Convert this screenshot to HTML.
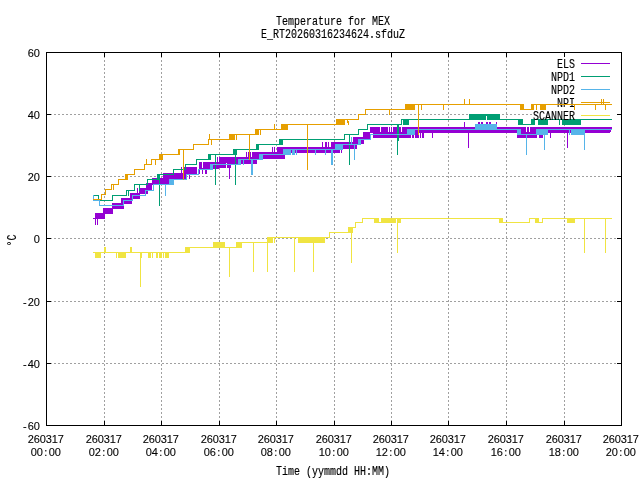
<!DOCTYPE html>
<html lang="en">
<head>
<meta charset="utf-8">
<title>Temperature for MEX</title>
<style>
html,body{margin:0;padding:0;background:#fff;}
body{width:640px;height:480px;overflow:hidden;}
svg{display:block;}
</style>
</head>
<body>
<svg width="640" height="480" viewBox="0 0 640 480" shape-rendering="crispEdges">
<rect width="640" height="480" fill="#fff"/>
<g stroke="#a0a0a0" stroke-width="1" stroke-dasharray="2 2" fill="none"><path d="M104.5 426V52"/><path d="M161.5 426V52"/><path d="M219.5 426V52"/><path d="M276.5 426V52"/><path d="M334.5 426V52"/><path d="M391.5 426V52"/><path d="M448.5 426V52"/><path d="M506.5 426V52"/><path d="M564.5 426V52"/><path d="M46 114.5H621"/><path d="M46 176.5H621"/><path d="M46 238.5H621"/><path d="M46 301.5H621"/><path d="M46 363.5H621"/></g>
<rect x="532" y="57" width="89" height="66" fill="#fff"/>
<g font-family="'Liberation Mono', monospace" font-size="12" fill="#000" stroke="#000" stroke-width="0.15"><text transform="translate(575 68) scale(0.8333 1)" text-anchor="end">ELS</text></g>

<path fill="#9400d3" d="M581 63h29v1h-29zM93 218h3v1h-3zM95 213h10v6h-10zM103 208h10v6h-10zM112 203h12v6h-12zM121 198h11v6h-11zM130 193h10v6h-10zM137 188h1v5h-1zM139 188h9v5h-9zM137 193h11v1h-11zM146 183h6v7h-6zM152 178h18v7h-18zM163 173h24v7h-24zM184 167h13v7h-13zM199 162h3v7h-3zM199 168h1v6h-1zM202 168h1v6h-1zM203 162h16v7h-16zM205 168h2v6h-2zM217 157h1v6h-1zM219 157h7v11h-7zM227 157h4v11h-4zM226 157h1v6h-1zM230 157h27v7h-27zM252 152h33v7h-33zM277 147h63v6h-63zM331 142h26v7h-26zM353 137h11v7h-11zM360 137h4v6h-4zM363 132h7v8h-7zM370 127h10v5h-10zM381 127h7v5h-7zM389 127h1v5h-1zM391 127h1v5h-1zM393 127h8v5h-8zM402 127h124v5h-124zM527 127h2v5h-2zM530 127h82v5h-82zM370 132h240v1h-240z"/>
<path fill="#ffffff" d="M611 130h1v2h-1z"/>
<path fill="#9400d3" d="M373 133h38v5h-38zM412 133h2v5h-2zM415 133h4v5h-4zM420 133h1v5h-1zM422 133h2v5h-2zM517 133h20v5h-20zM539 135h4v3h-4zM95 218h1v7h-1zM97 218h1v7h-1zM181 167h1v7h-1zM189 174h1v5h-1zM229 163h1v16h-1zM246 152h1v6h-1zM248 152h1v6h-1zM250 152h1v6h-1zM272 147h1v6h-1zM274 147h1v6h-1zM322 142h1v6h-1zM325 142h1v6h-1zM326 142h1v6h-1zM328 142h1v6h-1zM341 148h1v5h-1zM432 132h1v6h-1zM464 122h1v6h-1zM468 132h1v16h-1zM550 132h1v6h-1zM567 132h1v16h-1zM478 122h2v3h-2zM481 122h2v3h-2zM486 122h2v3h-2zM489 122h2v3h-2zM496 122h1v3h-1z"/>
<g font-family="'Liberation Mono', monospace" font-size="12" fill="#000" stroke="#000" stroke-width="0.15"><text transform="translate(575 81) scale(0.8333 1)" text-anchor="end">NPD1</text></g>

<path fill="#009e73" d="M581 76h29v1h-29zM93 195h6v1h-6zM98 195h1v6h-1zM98 200h15v1h-15zM112 195h1v6h-1zM112 195h15v1h-15zM126 190h1v6h-1zM126 190h9v1h-9zM134 184h1v7h-1zM134 184h14v1h-14zM147 179h1v6h-1zM147 179h11v1h-11zM157 174h1v6h-1zM157 174h17v1h-17zM173 169h1v6h-1zM173 169h13v1h-13zM185 164h1v6h-1zM185 164h12v1h-12zM196 159h1v6h-1zM196 159h13v1h-13zM208 154h1v6h-1zM208 154h26v1h-26zM233 149h1v6h-1zM233 149h24v1h-24zM256 144h1v6h-1zM256 144h25v1h-25zM280 139h1v6h-1zM280 139h65v1h-65zM344 134h1v6h-1zM344 134h15v1h-15zM358 129h1v6h-1zM358 129h10v1h-10zM367 124h1v6h-1zM367 124h35v1h-35zM401 119h1v6h-1zM401 119h85v1h-85zM487 119h32v1h-32zM518 119h1v6h-1zM518 124h14v1h-14zM531 119h1v6h-1zM531 119h81v1h-81zM157 174h2v6h-2zM208 154h3v6h-3zM233 149h4v6h-4zM256 144h3v6h-3zM279 139h4v6h-4zM403 119h6v6h-6zM469 114h31v2h-31zM469 114h17v6h-17zM487 114h13v6h-13zM518 119h5v6h-5zM531 119h4v6h-4zM538 119h10v6h-10zM562 119h19v6h-19zM128 190h1v6h-1zM139 184h1v7h-1zM159 174h1v32h-1zM215 154h1v31h-1zM235 149h1v36h-1zM349 134h1v31h-1zM397 124h1v31h-1zM398 124h1v17h-1zM559 119h1v6h-1z"/>
<g font-family="'Liberation Mono', monospace" font-size="12" fill="#000" stroke="#000" stroke-width="0.15"><text transform="translate(575 94) scale(0.8333 1)" text-anchor="end">NPD2</text></g>

<path fill="#56b4e9" d="M581 89h29v1h-29zM93 195h1v6h-1zM93 200h7v1h-7zM99 200h1v6h-1zM99 205h25v1h-25zM123 200h1v6h-1zM123 200h10v1h-10zM132 195h1v6h-1zM132 195h14v1h-14zM145 190h1v6h-1zM145 190h9v1h-9zM153 184h1v7h-1zM153 184h21v1h-21zM173 179h1v6h-1zM173 179h14v1h-14zM186 174h1v6h-1zM186 174h13v1h-13zM198 169h1v6h-1zM198 169h15v1h-15zM212 164h1v6h-1zM212 164h27v1h-27zM238 159h1v6h-1zM238 159h22v1h-22zM259 154h1v6h-1zM259 154h25v1h-25zM283 149h1v6h-1zM283 149h53v1h-53zM335 144h1v6h-1zM335 144h24v1h-24zM358 139h1v6h-1zM358 139h13v1h-13zM370 134h1v6h-1zM370 134h38v1h-38zM407 129h1v6h-1zM407 129h111v1h-111zM517 129h1v6h-1zM517 134h20v1h-20zM536 129h1v6h-1zM536 129h76v1h-76zM169 179h5v6h-5zM210 164h3v6h-3zM238 159h3v6h-3zM259 154h4v6h-4zM283 149h8v6h-8zM292 149h3v6h-3zM296 149h1v6h-1zM335 144h8v6h-8zM358 139h3v6h-3zM407 129h8v6h-8zM475 124h22v6h-22zM517 129h4v6h-4zM536 129h12v6h-12zM571 129h14v6h-14zM165 184h1v12h-1zM243 159h1v6h-1zM251 159h1v16h-1zM252 159h1v16h-1zM315 149h1v6h-1zM325 149h1v6h-1zM331 149h1v16h-1zM332 149h1v16h-1zM351 137h1v8h-1zM354 144h1v16h-1zM526 134h1v21h-1zM544 134h1v16h-1zM569 129h1v6h-1zM584 134h1v16h-1z"/>
<g font-family="'Liberation Mono', monospace" font-size="12" fill="#000" stroke="#000" stroke-width="0.15"><text transform="translate(575 107) scale(0.8333 1)" text-anchor="end">NPI</text></g>

<path fill="#e69f00" d="M581 102h29v1h-29zM93 199h9v1h-9zM101 194h1v6h-1zM101 194h5v1h-5zM105 189h1v6h-1zM105 189h7v1h-7zM111 184h1v6h-1zM111 184h8v1h-8zM118 179h1v6h-1zM118 179h9v1h-9zM126 174h1v6h-1zM126 174h9v1h-9zM134 169h1v6h-1zM134 169h11v1h-11zM144 164h1v6h-1zM144 164h8v1h-8zM151 159h1v6h-1zM151 159h9v1h-9zM159 154h1v6h-1zM159 154h21v1h-21zM179 149h1v6h-1zM179 149h15v1h-15zM193 144h1v6h-1zM193 144h16v1h-16zM208 139h1v6h-1zM208 139h22v1h-22zM229 134h1v6h-1zM229 134h27v1h-27zM255 129h1v6h-1zM255 129h27v1h-27zM281 124h1v6h-1zM281 124h56v1h-56zM336 119h1v6h-1zM336 119h23v1h-23zM358 114h1v6h-1zM358 114h8v1h-8zM365 109h1v6h-1zM365 109h41v1h-41zM405 104h1v6h-1zM405 104h116v1h-116zM520 104h1v6h-1zM520 109h12v1h-12zM531 104h1v6h-1zM531 104h81v1h-81zM125 174h3v6h-3zM159 154h4v6h-4zM178 149h2v6h-2zM229 134h6v6h-6zM255 129h4v6h-4zM281 124h7v6h-7zM336 119h9v6h-9zM405 104h10v6h-10zM520 104h4v6h-4zM531 104h3v6h-3zM540 104h6v6h-6zM113 184h1v6h-1zM146 159h1v6h-1zM155 159h1v6h-1zM183 149h1v31h-1zM209 134h1v6h-1zM211 139h1v6h-1zM236 134h1v6h-1zM249 134h1v26h-1zM260 129h1v6h-1zM274 124h1v6h-1zM307 124h1v46h-1zM347 119h1v4h-1zM348 121h1v4h-1zM389 109h1v6h-1zM418 104h1v31h-1zM421 104h1v6h-1zM443 104h1v6h-1zM464 99h1v6h-1zM469 99h1v6h-1zM536 104h1v6h-1zM574 104h1v6h-1zM595 104h1v6h-1zM601 99h1v6h-1zM603 99h1v6h-1zM605 104h1v6h-1z"/>
<g font-family="'Liberation Mono', monospace" font-size="12" fill="#000" stroke="#000" stroke-width="0.15"><text transform="translate(575 120) scale(0.8333 1)" text-anchor="end">SCANNER</text></g>

<path fill="#f0e442" d="M581 115h29v1h-29zM93 252h93v1h-93zM185 247h1v6h-1zM185 247h52v1h-52zM236 242h1v6h-1zM236 242h32v1h-32zM267 237h1v6h-1zM267 237h63v1h-63zM329 232h1v6h-1zM329 232h20v1h-20zM348 227h1v6h-1zM348 227h8v1h-8zM355 222h1v6h-1zM355 222h8v1h-8zM362 218h1v5h-1zM362 218h17v1h-17zM381 218h119v1h-119zM499 218h1v5h-1zM499 222h31v1h-31zM529 218h1v5h-1zM529 218h7v1h-7zM535 218h1v5h-1zM535 222h8v1h-8zM542 218h1v5h-1zM542 218h70v1h-70zM378 222h4v1h-4zM95 252h6v6h-6zM118 252h8v6h-8zM140 252h2v6h-2zM148 252h3v6h-3zM156 252h2v6h-2zM159 252h3v6h-3zM163 252h1v6h-1zM165 252h4v6h-4zM185 247h5v6h-5zM213 242h12v6h-12zM236 242h6v6h-6zM267 237h6v6h-6zM298 237h27v6h-27zM348 227h5v6h-5zM374 218h5v5h-5zM381 218h15v5h-15zM397 218h4v5h-4zM499 218h4v5h-4zM535 218h4v5h-4zM567 218h8v5h-8zM104 247h1v6h-1zM105 247h1v6h-1zM116 252h1v6h-1zM130 247h1v6h-1zM131 247h1v6h-1zM140 252h1v35h-1zM152 252h1v6h-1zM229 247h1v30h-1zM253 242h1v30h-1zM267 242h1v30h-1zM274 237h1v6h-1zM294 237h1v35h-1zM313 237h1v35h-1zM351 227h1v36h-1zM397 218h1v35h-1zM584 218h1v35h-1zM605 218h1v35h-1z"/>


<path fill="#000000" d="M46 52h576v1h-576zM46 425h576v1h-576zM46 52h1v374h-1zM621 52h1v374h-1zM104 421h1v5h-1zM104 52h1v5h-1zM161 421h1v5h-1zM161 52h1v5h-1zM219 421h1v5h-1zM219 52h1v5h-1zM276 421h1v5h-1zM276 52h1v5h-1zM334 421h1v5h-1zM334 52h1v5h-1zM391 421h1v5h-1zM391 52h1v5h-1zM448 421h1v5h-1zM448 52h1v5h-1zM506 421h1v5h-1zM506 52h1v5h-1zM564 421h1v5h-1zM564 52h1v5h-1zM46 114h5v1h-5zM617 114h5v1h-5zM46 176h5v1h-5zM617 176h5v1h-5zM46 238h5v1h-5zM617 238h5v1h-5zM46 301h5v1h-5zM617 301h5v1h-5zM46 363h5v1h-5zM617 363h5v1h-5z"/>
<g font-family="'Liberation Mono', monospace" font-size="12" fill="#000" stroke="#000" stroke-width="0.15"><text transform="translate(333 25) scale(0.8333 1)" text-anchor="middle">Temperature for MEX</text><text transform="translate(333 38) scale(0.8333 1)" text-anchor="middle">E_RT20260316234624.sfduZ</text><text transform="translate(333 475) scale(0.8333 1)" text-anchor="middle">Time (yymmdd HH:MM)</text><text transform="translate(16 240.5) rotate(-90) scale(0.8333 1)" text-anchor="middle">&#176;C</text></g><g font-family="'Liberation Sans', sans-serif" font-size="11" text-anchor="middle" fill="#000" stroke="#000" stroke-width="0.1"><text x="30.9 36.9 42.9 48.9 54.9 60.9" y="443">260317</text><text x="33.9 39.9 45.9 51.9 57.9" y="456">00:00</text><text x="88.9 94.9 100.9 106.9 112.9 118.9" y="443">260317</text><text x="91.9 97.9 103.9 109.9 115.9" y="456">02:00</text><text x="145.9 151.9 157.9 163.9 169.9 175.9" y="443">260317</text><text x="148.9 154.9 160.9 166.9 172.9" y="456">04:00</text><text x="203.9 209.9 215.9 221.9 227.9 233.9" y="443">260317</text><text x="206.9 212.9 218.9 224.9 230.9" y="456">06:00</text><text x="260.9 266.9 272.9 278.9 284.9 290.9" y="443">260317</text><text x="263.9 269.9 275.9 281.9 287.9" y="456">08:00</text><text x="318.9 324.9 330.9 336.9 342.9 348.9" y="443">260317</text><text x="321.9 327.9 333.9 339.9 345.9" y="456">10:00</text><text x="375.9 381.9 387.9 393.9 399.9 405.9" y="443">260317</text><text x="378.9 384.9 390.9 396.9 402.9" y="456">12:00</text><text x="432.9 438.9 444.9 450.9 456.9 462.9" y="443">260317</text><text x="435.9 441.9 447.9 453.9 459.9" y="456">14:00</text><text x="490.9 496.9 502.9 508.9 514.9 520.9" y="443">260317</text><text x="493.9 499.9 505.9 511.9 517.9" y="456">16:00</text><text x="548.9 554.9 560.9 566.9 572.9 578.9" y="443">260317</text><text x="551.9 557.9 563.9 569.9 575.9" y="456">18:00</text><text x="605.9 611.9 617.9 623.9 629.9 635.9" y="443">260317</text><text x="608.9 614.9 620.9 626.9 632.9" y="456">20:00</text><text x="30.9 36.9" y="57">60</text><text x="30.9 36.9" y="119">40</text><text x="30.9 36.9" y="181">20</text><text x="36.9" y="243">0</text><text x="24.9 30.9 36.9" y="306">-20</text><text x="24.9 30.9 36.9" y="368">-40</text><text x="24.9 30.9 36.9" y="430">-60</text></g>
</svg>
</body>
</html>
